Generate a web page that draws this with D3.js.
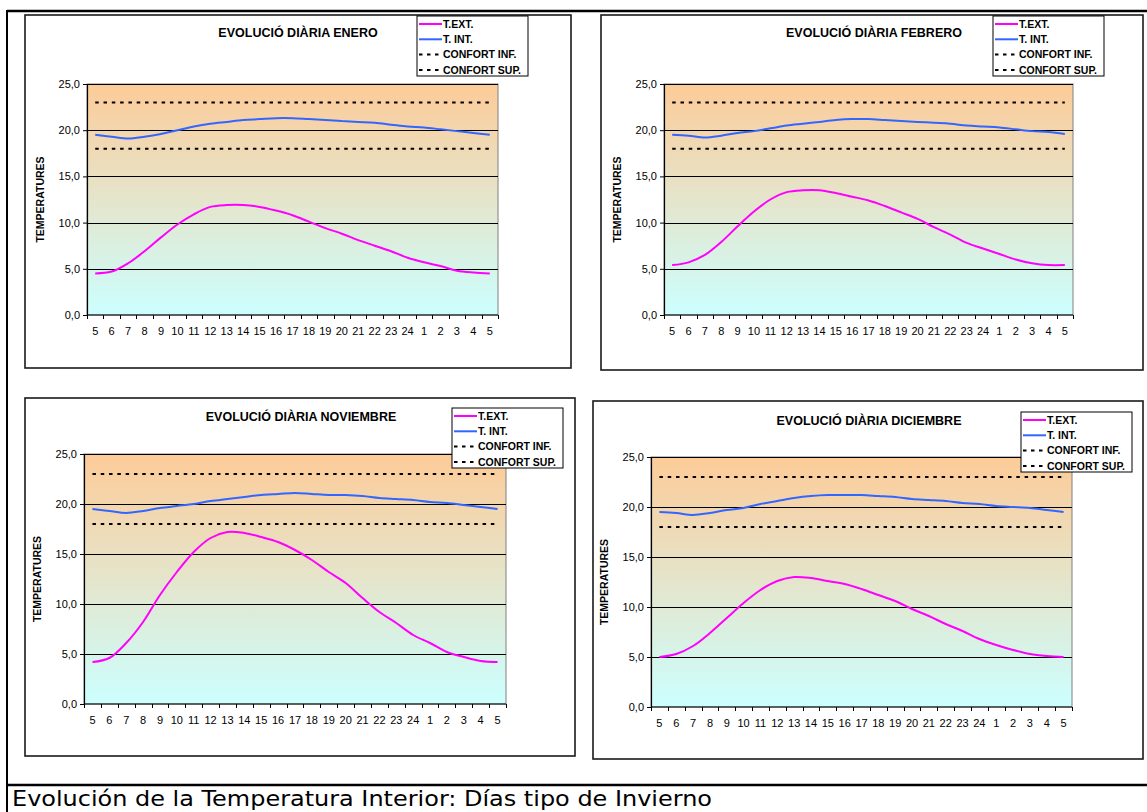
<!DOCTYPE html>
<html>
<head>
<meta charset="utf-8">
<script src="https://cdn.jsdelivr.net/npm/d3@7"></script>
<style>
  html, body { margin: 0; padding: 0; background: #fff; }
  svg { display: block; }
</style>
</head>
<body>
<svg id="chart" width="1147" height="812"></svg>
<script>
// Hour of the day, from 5 h to 5 h of the next day
const hours = ["5","6","7","8","9","10","11","12","13","14","15","16","17","18","19","20","21","22","23","24","1","2","3","4","5"];
const yTicks = [0, 5, 10, 15, 20, 25];
const seriesNames = ["T.EXT.", "T. INT.", "CONFORT INF.", "CONFORT SUP."];
const months = ["ENERO", "FEBRERO", "NOVIEMBRE", "DICIEMBRE"];
const caption = "Evolución de la Temperatura Interior: Días tipo de Invierno";

// Outdoor temperature (ºC)
const tExtEnero     = [4.5, 4.7, 5.6, 6.9, 8.4, 9.8, 10.9, 11.7, 11.9, 11.9, 11.7, 11.3, 10.8, 10.1, 9.4, 8.8, 8.1, 7.5, 6.9, 6.2, 5.7, 5.3, 4.8, 4.6, 4.5];
const tExtFebrero   = [5.4, 5.7, 6.5, 7.9, 9.6, 11.2, 12.5, 13.3, 13.5, 13.5, 13.2, 12.8, 12.4, 11.8, 11.1, 10.4, 9.5, 8.7, 7.8, 7.2, 6.6, 6.0, 5.6, 5.4, 5.4];
const tExtNoviembre = [4.2, 4.6, 6.1, 8.2, 10.9, 13.2, 15.2, 16.6, 17.2, 17.1, 16.7, 16.2, 15.4, 14.4, 13.2, 12.1, 10.6, 9.2, 8.1, 6.9, 6.1, 5.2, 4.7, 4.3, 4.2];
const tExtDiciembre = [5.0, 5.3, 6.1, 7.4, 8.9, 10.4, 11.7, 12.6, 13.0, 12.9, 12.6, 12.3, 11.8, 11.2, 10.6, 9.8, 9.1, 8.3, 7.6, 6.8, 6.2, 5.7, 5.3, 5.1, 5.0];

// Indoor temperature (ºC)
const tIntEnero     = [19.5, 19.3, 19.1, 19.3, 19.6, 20.0, 20.4, 20.7, 20.9, 21.1, 21.2, 21.3, 21.3, 21.2, 21.1, 21.0, 20.9, 20.8, 20.6, 20.4, 20.3, 20.1, 19.9, 19.7, 19.5];
const tIntFebrero   = [19.5, 19.4, 19.2, 19.4, 19.7, 19.9, 20.2, 20.5, 20.7, 20.9, 21.1, 21.2, 21.2, 21.1, 21.0, 20.9, 20.8, 20.7, 20.5, 20.4, 20.3, 20.1, 19.9, 19.8, 19.6];
const tIntNoviembre = [19.5, 19.3, 19.1, 19.3, 19.6, 19.8, 20.0, 20.3, 20.5, 20.7, 20.9, 21.0, 21.1, 21.0, 20.9, 20.9, 20.8, 20.6, 20.5, 20.4, 20.2, 20.1, 19.9, 19.7, 19.5];
const tIntDiciembre = [19.5, 19.4, 19.2, 19.4, 19.7, 19.9, 20.3, 20.6, 20.9, 21.1, 21.2, 21.2, 21.2, 21.1, 21.0, 20.8, 20.7, 20.6, 20.4, 20.3, 20.1, 20.0, 19.9, 19.7, 19.5];

// Comfort band limits (ºC)
const confortInf = [18, 18, 18, 18, 18, 18, 18, 18, 18, 18, 18, 18, 18, 18, 18, 18, 18, 18, 18, 18, 18, 18, 18, 18, 18];
const confortSup = [23, 23, 23, 23, 23, 23, 23, 23, 23, 23, 23, 23, 23, 23, 23, 23, 23, 23, 23, 23, 23, 23, 23, 23, 23];

// Panel placement: outer frame, plot area, legend corner, title centre
const panels = [
  { month: months[0], ext: tExtEnero,     int: tIntEnero,     frame: [25, 15, 571, 368],  plot: [87, 84, 498, 315],   legend: [417, 16],   title: [298, 32] },
  { month: months[1], ext: tExtFebrero,   int: tIntFebrero,   frame: [601, 15, 1143, 370], plot: [664, 84, 1073, 315], legend: [993, 16],   title: [874, 32] },
  { month: months[2], ext: tExtNoviembre, int: tIntNoviembre, frame: [25, 398, 575, 756], plot: [84, 454, 506, 704],  legend: [452, 408],  title: [301, 416] },
  { month: months[3], ext: tExtDiciembre, int: tIntDiciembre, frame: [593, 401, 1143, 759], plot: [651, 457, 1072, 707], legend: [1021, 412], title: [869, 420] }
];

const colors = { ext: "#FF00FF", int: "#3366FF", confort: "#000000" };
const FONT = "'Liberation Sans', Arial, sans-serif";

const fmt = d3.formatLocale({ decimal: ",", thousands: ".", grouping: [3], currency: ["", "€"] }).format(".1f");

const svg = d3.select("#chart");
const defs = svg.append("defs");
const grad = defs.append("linearGradient")
  .attr("id", "plotFill").attr("x1", 0).attr("y1", 0).attr("x2", 0).attr("y2", 1);
grad.append("stop").attr("offset", "0%").attr("stop-color", "#FDCB98");
grad.append("stop").attr("offset", "100%").attr("stop-color", "#CCFFFF");

// Table rules around the four charts
svg.append("line").attr("x1", 7).attr("x2", 1147).attr("y1", 11).attr("y2", 11)
  .attr("stroke", "#000").attr("stroke-width", 2.5);
svg.append("line").attr("x1", 7).attr("x2", 7).attr("y1", 10).attr("y2", 812)
  .attr("stroke", "#000").attr("stroke-width", 2);
svg.append("line").attr("x1", 7).attr("x2", 1147).attr("y1", 785).attr("y2", 785)
  .attr("stroke", "#000").attr("stroke-width", 2.5);

svg.append("text")
  .attr("x", 12).attr("y", 806)
  .attr("font-family", "Tahoma, 'DejaVu Sans', sans-serif")
  .attr("font-size", 21)
  .attr("textLength", 700).attr("lengthAdjust", "spacingAndGlyphs")
  .attr("fill", "#000")
  .text(caption);

panels.forEach(drawPanel);

function drawPanel(p) {
  const g = svg.append("g");
  const [fx0, fy0, fx1, fy1] = p.frame;
  const [px0, py0, px1, py1] = p.plot;

  g.append("rect")
    .attr("x", fx0).attr("y", fy0).attr("width", fx1 - fx0).attr("height", fy1 - fy0)
    .attr("fill", "#fff").attr("stroke", "#1a1a1a").attr("stroke-width", 1.6);

  const x = d3.scaleBand().domain(d3.range(hours.length)).range([px0, px1]);
  const y = d3.scaleLinear().domain([0, 25]).range([py1, py0]);
  const cx = i => x(i) + x.bandwidth() / 2;

  // Plot area
  g.append("rect")
    .attr("x", px0).attr("y", py0).attr("width", px1 - px0).attr("height", py1 - py0)
    .attr("fill", "url(#plotFill)").attr("stroke", "#808080").attr("stroke-width", 1);

  // Horizontal gridlines
  g.append("g").selectAll("line")
    .data(yTicks.filter(v => v > 0))
    .join("line")
    .attr("x1", px0).attr("x2", px1)
    .attr("y1", d => Math.round(y(d)) + 0.5).attr("y2", d => Math.round(y(d)) + 0.5)
    .attr("stroke", "#000").attr("stroke-width", 1);

  // Y axis
  const ya = g.append("g")
    .attr("transform", `translate(${px0},0)`)
    .call(d3.axisLeft(y).tickValues(yTicks).tickFormat(fmt).tickSizeInner(4).tickSizeOuter(0).tickPadding(3));
  ya.select(".domain").attr("stroke", "#000").attr("stroke-width", 1.2);
  ya.selectAll(".tick line").attr("stroke", "#000");
  ya.selectAll("text").attr("font-family", FONT).attr("font-size", 11).attr("fill", "#000");

  // X axis: labels at category centres, ticks between categories
  const xa = g.append("g")
    .attr("transform", `translate(0,${py1})`)
    .call(d3.axisBottom(x).tickFormat(i => hours[i]).tickSize(0).tickPadding(12));
  xa.select(".domain").remove();
  xa.selectAll("text").attr("font-family", FONT).attr("font-size", 11).attr("fill", "#000");
  g.append("line").attr("x1", px0).attr("x2", px1).attr("y1", py1).attr("y2", py1)
    .attr("stroke", "#000").attr("stroke-width", 1.2);
  g.append("g").selectAll("line")
    .data(d3.range(hours.length + 1))
    .join("line")
    .attr("x1", i => Math.round(px0 + i * x.step()) + 0.5)
    .attr("x2", i => Math.round(px0 + i * x.step()) + 0.5)
    .attr("y1", py1).attr("y2", py1 + 4)
    .attr("stroke", "#000").attr("stroke-width", 1);

  // Comfort limits
  const straight = d3.line().x((d, i) => cx(i)).y(d => y(d));
  [confortInf, confortSup].forEach(arr => {
    g.append("path").attr("d", straight(arr))
      .attr("fill", "none").attr("stroke", colors.confort)
      .attr("stroke-width", 2).attr("stroke-dasharray", "3.5,4.8");
  });

  // Temperature curves
  const smooth = d3.line().x((d, i) => cx(i)).y(d => y(d)).curve(d3.curveCatmullRom.alpha(0.5));
  g.append("path").attr("d", smooth(p.int))
    .attr("fill", "none").attr("stroke", colors.int).attr("stroke-width", 2);
  g.append("path").attr("d", smooth(p.ext))
    .attr("fill", "none").attr("stroke", colors.ext).attr("stroke-width", 2);

  // Title
  g.append("text")
    .attr("x", p.title[0]).attr("y", p.title[1] + 4.5)
    .attr("text-anchor", "middle")
    .attr("font-family", FONT).attr("font-weight", "bold").attr("font-size", 12.5)
    .attr("fill", "#000")
    .text("EVOLUCIÓ DIÀRIA " + p.month);

  // Y axis title
  g.append("text")
    .attr("transform", `translate(${px0 - 43},${(py0 + py1) / 2}) rotate(-90)`)
    .attr("text-anchor", "middle")
    .attr("font-family", FONT).attr("font-weight", "bold").attr("font-size", 10.5)
    .attr("fill", "#000")
    .text("TEMPERATURES");

  // Legend
  const [lx, ly] = p.legend;
  const lg = g.append("g").attr("transform", `translate(${lx},${ly})`);
  lg.append("rect").attr("x", 0).attr("y", 0).attr("width", 111).attr("height", 60)
    .attr("fill", "#fff").attr("stroke", "#000").attr("stroke-width", 1);
  const entries = [
    { name: seriesNames[0], color: colors.ext, dash: null },
    { name: seriesNames[1], color: colors.int, dash: null },
    { name: seriesNames[2], color: colors.confort, dash: "3.5,4.5" },
    { name: seriesNames[3], color: colors.confort, dash: "3.5,4.5" }
  ];
  entries.forEach((e, k) => {
    const cy = 8 + k * 15.3;
    lg.append("line").attr("x1", 2).attr("x2", 25).attr("y1", cy).attr("y2", cy)
      .attr("stroke", e.color).attr("stroke-width", 2)
      .attr("stroke-dasharray", e.dash);
    lg.append("text").attr("x", 26).attr("y", cy + 3.8)
      .attr("font-family", FONT).attr("font-weight", "bold").attr("font-size", 10.5)
      .attr("fill", "#000")
      .text(e.name);
  });
}
</script>
</body>
</html>
